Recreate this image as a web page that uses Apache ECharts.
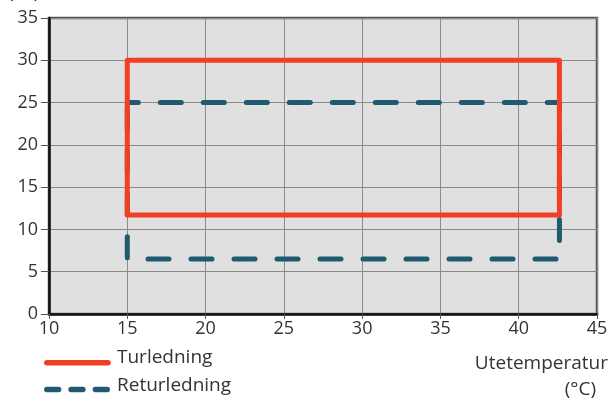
<!DOCTYPE html>
<html><head><meta charset="utf-8">
<script src="https://cdn.jsdelivr.net/npm/echarts@6/dist/echarts.min.js"></script>
<style>html,body{margin:0;padding:0;background:#fff}#c{width:611px;height:401px}</style>
</head><body><div id="c"></div>
<script>
const xTicks = [10, 15, 20, 25, 30, 35, 40, 45];
const yTicks = [0, 5, 10, 15, 20, 25, 30, 35];
const turledning = [[15, 30], [42.6, 30], [42.6, 11.7], [15, 11.7], [15, 30]];
const returledning = [[15, 25], [42.6, 25], [42.6, 6.5], [15, 6.5], [15, 25]];
const seriesNames = ['Turledning', 'Returledning'];
const xName = ['Utetemperatur', '(°C)'];
const yName = '(°C)';

const font = 'Open Sans';
const redC = '#f23e22', blueC = '#1f5a70';
const tf = '19px "' + font + '"';
const chart = echarts.init(document.getElementById('c'), null, {renderer: 'canvas'});
chart.setOption({
  animation: false,
  grid: {left: 49, right: 14, top: 18, bottom: 87, show: true, backgroundColor: '#e0e0e0', borderColor: '#555', borderWidth: 2.5},
  xAxis: {
    type: 'value', min: xTicks[0], max: xTicks[xTicks.length - 1], interval: 5,
    axisLine: {show: true, lineStyle: {color: '#111', width: 2.5}},
    axisTick: {show: true, length: 5, lineStyle: {color: '#555', width: 1}},
    axisLabel: {color: '#333', fontSize: 18, fontFamily: font, margin: 6},
    splitLine: {show: true, lineStyle: {color: '#8a8a8a', width: 1}}
  },
  yAxis: {
    type: 'value', min: yTicks[0], max: yTicks[yTicks.length - 1], interval: 5,
    axisLine: {show: true, lineStyle: {color: '#111', width: 2.5}},
    axisTick: {show: true, length: 8, lineStyle: {color: '#555', width: 1}},
    axisLabel: {color: '#333', fontSize: 18, fontFamily: font, margin: 11},
    splitLine: {show: true, lineStyle: {color: '#8a8a8a', width: 1}}
  },
  series: [
    {name: seriesNames[1], type: 'line', data: returledning, symbol: 'none', z: 2, color: blueC,
     lineStyle: {color: blueC, width: 5, type: [21, 22], cap: 'round', dashOffset: 10}},
    {name: seriesNames[0], type: 'line', data: turledning, symbol: 'none', z: 3, color: redC,
     lineStyle: {color: redC, width: 5, join: 'round', cap: 'round'}}
  ],
  graphic: [
    {type: 'line', shape: {x1: 46.8, y1: 362.7, x2: 108, y2: 362.7},
     style: {stroke: redC, lineWidth: 5.5, lineCap: 'round'}},
    {type: 'line', shape: {x1: 46.8, y1: 389.5, x2: 107.2, y2: 389.5},
     style: {stroke: blueC, lineWidth: 5.5, lineCap: 'round', lineDash: [11.8, 12.5]}},
    {type: 'text', x: 117, y: 358, style: {text: seriesNames[0], fill: '#333', font: tf, textVerticalAlign: 'middle'}},
    {type: 'text', x: 117, y: 386, style: {text: seriesNames[1], fill: '#333', font: tf, textVerticalAlign: 'middle'}},
    {type: 'text', right: 3, top: 354, style: {text: xName[0], fill: '#333', font: tf, textAlign: 'right'}},
    {type: 'text', right: 15, top: 380, style: {text: xName[1], fill: '#333', font: tf, textAlign: 'right'}},
    {type: 'text', left: 8, top: -17, style: {text: yName, fill: '#333', font: tf}}
  ]
});
</script></body></html>
